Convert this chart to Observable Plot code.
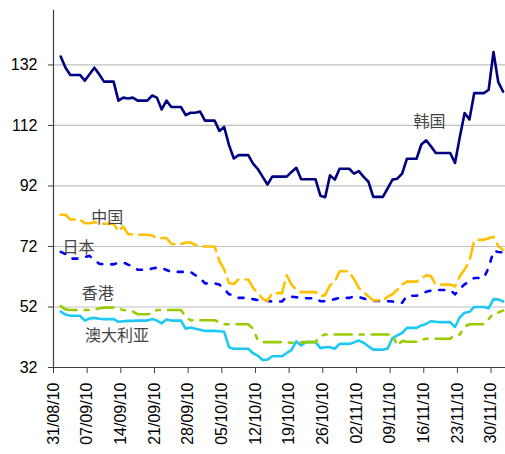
<!DOCTYPE html>
<html><head><meta charset="utf-8">
<script src="https://cdn.jsdelivr.net/npm/d3@7"></script>
<script src="https://cdn.jsdelivr.net/npm/@observablehq/plot@0.6"></script>
<style>body{margin:0;background:#fff}</style>
</head><body><div id="chart"></div>
<script>
// daily values from 01/09/10 (weekends carry the Friday value)
const startDate = "2010-09-01";
const korea = [134.8,131.1,128.7,128.7,128.7,126.8,128.9,131.1,128.9,126.5,126.5,126.5,120.2,121.2,120.9,121.2,120.2,120.2,120.2,121.9,121.2,117.3,120.2,118.1,118.1,118.1,115.4,116.2,116.2,116.6,113.6,113.6,113.6,110.2,111.5,105.5,101.1,102.2,102.2,102.2,99.4,97.6,95.0,92.5,95.1,95.1,95.1,95.1,96.6,98.0,94.2,94.2,94.2,94.2,88.8,88.3,95.5,94.1,97.7,97.7,97.7,96.1,96.9,95.0,93.4,88.4,88.4,88.4,91.2,94.1,94.4,96.1,101.0,101.0,101.0,105.7,107.1,105.1,102.9,102.9,102.9,102.9,99.6,108.2,116.1,114.0,122.7,122.7,122.7,123.8,136.3,126.3,123.2];
const china = [82.5,82.5,80.9,80.9,80.9,79.7,79.7,80.0,79.8,79.5,79.5,79.5,77.0,78.6,76.1,75.9,75.9,75.9,75.9,75.6,74.9,74.8,74.8,72.8,72.8,72.8,73.3,73.3,72.5,72.0,72.0,72.0,72.0,67.2,64.4,59.9,59.6,61.1,61.1,61.1,58.3,56.6,54.7,54.0,56.6,56.6,56.6,62.5,59.4,57.7,56.9,56.9,56.9,56.9,55.5,56.0,59.2,60.3,63.8,63.8,63.8,61.1,58.3,56.9,55.5,54.2,54.2,54.2,55.4,56.2,57.7,59.4,60.4,60.4,60.4,61.4,62.5,62.2,59.4,59.4,59.4,59.4,58.8,62.2,64.4,67.2,73.9,74.2,74.2,74.7,75.2,72.2,70.8];
const japan = [70.2,69.5,68.0,68.0,68.0,68.5,68.9,67.5,66.3,66.1,66.1,66.1,66.6,66.8,66.0,65.5,64.3,64.3,64.3,64.7,65.0,65.0,64.2,63.6,63.6,63.6,63.6,63.6,62.5,61.5,59.8,59.8,59.8,59.4,58.0,56.2,56.0,55.0,55.0,55.0,54.6,54.3,54.2,54.0,53.8,53.8,53.8,55.4,55.4,55.2,55.0,54.9,54.9,54.9,53.9,53.9,54.2,54.6,55.0,55.0,55.0,55.5,55.3,54.8,54.3,54.0,54.0,54.0,53.9,53.8,53.7,53.4,55.7,55.7,55.7,56.2,57.0,57.4,57.6,57.6,57.6,57.6,56.2,58.0,59.5,60.5,61.6,61.6,61.6,65.0,70.5,70.2,70.0];
const hongkong = [52.3,51.2,51.0,51.0,51.0,51.0,51.0,51.2,51.5,51.8,51.8,51.8,51.5,51.0,50.8,50.5,49.6,49.6,49.6,49.8,51.0,51.0,51.0,51.0,51.0,51.0,48.8,47.6,47.6,47.6,47.6,47.6,47.6,47.0,46.3,46.3,46.3,46.3,46.3,46.3,44.8,41.0,40.4,40.4,40.4,40.4,40.4,40.3,40.2,40.2,40.3,40.4,40.4,40.4,42.4,42.9,42.9,42.9,42.9,42.9,42.9,42.9,42.9,42.9,42.9,42.9,42.9,42.9,42.9,42.9,39.2,40.8,40.5,40.5,40.5,41.2,41.5,41.5,41.5,41.5,41.5,41.5,42.9,42.9,45.5,46.3,46.3,46.3,46.3,48.0,49.8,50.2,50.8];
const australia = [50.5,49.5,49.1,49.1,49.1,47.5,48.2,48.4,48.1,48.0,48.0,48.0,47.1,47.3,47.4,47.4,47.5,47.5,47.5,48.0,47.5,46.6,47.9,47.5,47.5,47.5,44.8,45.2,44.8,44.5,44.1,44.1,44.1,44.0,43.8,38.7,38.2,38.2,38.2,38.2,36.7,35.9,34.5,34.6,35.7,35.7,35.7,36.8,37.8,40.6,39.3,40.4,40.4,40.4,38.4,38.7,38.7,38.2,39.8,39.8,39.8,40.3,40.9,40.2,39.0,37.9,37.9,37.9,38.3,41.7,42.6,43.4,45.1,45.1,45.1,45.9,46.4,47.3,47.1,47.0,47.0,47.0,45.4,48.6,50.1,50.4,52.0,52.0,52.0,51.6,54.6,54.5,53.8];
const tickLabels = ["31/08/10","07/09/10","14/09/10","21/09/10","28/09/10","05/10/10","12/10/10","19/10/10","26/10/10","02/11/10","09/11/10","16/11/10","23/11/10","30/11/10"];
const yTicks = [32,52,72,92,112,132];
const yDomain = [32,150];
const axisEnd = "03/12/10";
// series labels: name, anchor date, value
const labelNames = ["韩国","中国","日本","香港","澳大利亚"];
const labelDates = ["17/11/10","11/09/10","05/09/10","09/09/10","13/09/10"];
const labelValues = [113.1,81.3,71.7,56.5,42.3];

const parse = d3.utcParse("%d/%m/%y");
const fmt = d3.utcFormat("%d/%m/%y");
const DAY = 864e5;
const t0 = Date.parse(startDate);
const rows = vals => vals.map((v,i)=>({date:new Date(t0 + i*DAY + DAY/2), value:v}));
const tickDates = tickLabels.map(parse);
const labels = labelNames.map((n,i)=>({name:n, date:new Date(+parse(labelDates[i]) + DAY*0.2), value:labelValues[i]}));

const chart = Plot.plot({
  width: 505, height: 454,
  marginLeft: 53, marginRight: 0, marginTop: 10, marginBottom: 87,
  style: {fontFamily: "'Liberation Sans', Arial, sans-serif", fontSize: "16px", color: "#000", background: "#fff"},
  x: {type: "utc", domain: [parse(tickLabels[0]), parse(axisEnd)]},
  y: {domain: yDomain},
  marks: [
    Plot.gridY(yTicks, {stroke: "#c0c0c0", strokeOpacity: 1, strokeWidth: 1.2}),
    Plot.line(rows(australia), {x:"date", y:"value", stroke:"#1ec8f5", strokeWidth:2.6}),
    Plot.line(rows(hongkong), {x:"date", y:"value", stroke:"#99cc00", strokeWidth:2.6, strokeDasharray:"17,8,4,8"}),
    Plot.line(rows(japan), {x:"date", y:"value", stroke:"#0000ff", strokeWidth:2.6, strokeDasharray:"5,9"}),
    Plot.line(rows(china), {x:"date", y:"value", stroke:"#ffc000", strokeWidth:2.6, strokeDasharray:"16,7"}),
    Plot.line(rows(korea), {x:"date", y:"value", stroke:"#000080", strokeWidth:2.6}),
    Plot.ruleX([parse(tickLabels[0])], {stroke:"#404040", strokeWidth:1.2}),
    Plot.ruleY([yDomain[0]], {stroke:"#404040", strokeWidth:1.2}),
    Plot.axisY({ticks: yTicks, tickSize: 5, tickPadding: 11, fontSize: 16, stroke: "#404040", label: null}),
    Plot.axisX({ticks: tickDates, tickFormat: fmt, tickRotate: -90, tickSize: 6, tickPadding: 9, fontSize: 16, stroke: "#404040", label: null}),
    Plot.text(labels, {x:"date", y:"value", text:"name", fontSize: 16, fill:"#444", fontFamily:"'Noto Sans CJK SC', sans-serif", textAnchor:"middle", lineAnchor:"middle"})
  ]
});
document.getElementById("chart").appendChild(chart);
</script>
</body></html>
